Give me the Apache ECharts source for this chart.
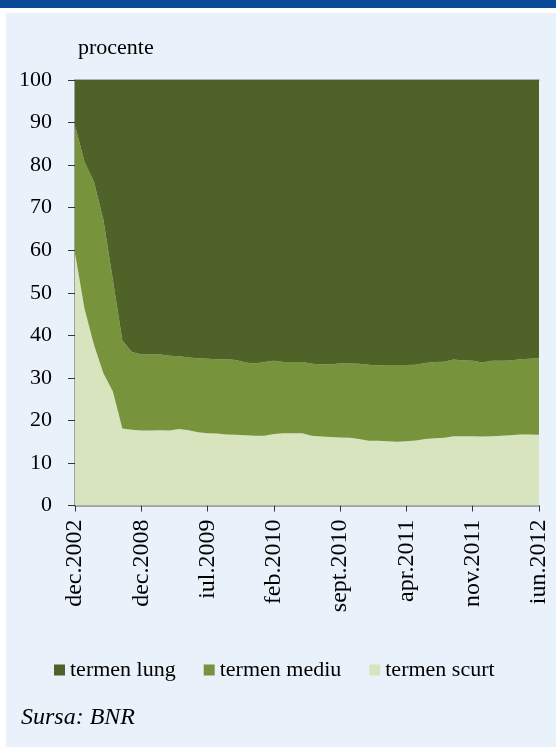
<!DOCTYPE html>
<html>
<head>
<meta charset="utf-8">
<script src="https://cdn.jsdelivr.net/npm/echarts@6/dist/echarts.min.js"></script>
<style>
  html, body { margin: 0; padding: 0; background: #fff; }
  #band { position: absolute; left: 0; top: 0; width: 556px; height: 8px; background: #0a4b97; }
  #chart { position: absolute; left: 6px; top: 13px; width: 550px; height: 734px; background: #e9f1fb; }
</style>
</head>
<body>
<div id="band"></div>
<div id="chart"></div>
<script>
// categorii (dec.2002 ... dec.2007 anual, apoi lunar din dec.2008)
const categories = [
  'dec.2002', 'dec.2003', 'dec.2004', 'dec.2005', 'dec.2006', 'dec.2007', 'iun.2008',
  'dec.2008', 'ian.2009', 'feb.2009', 'mar.2009', 'apr.2009', 'mai.2009', 'iun.2009',
  'iul.2009', 'aug.2009', 'sept.2009', 'oct.2009', 'nov.2009', 'dec.2009', 'ian.2010',
  'feb.2010', 'mar.2010', 'apr.2010', 'mai.2010', 'iun.2010', 'iul.2010', 'aug.2010',
  'sept.2010', 'oct.2010', 'nov.2010', 'dec.2010', 'ian.2011', 'feb.2011', 'mar.2011',
  'apr.2011', 'mai.2011', 'iun.2011', 'iul.2011', 'aug.2011', 'sept.2011', 'oct.2011',
  'nov.2011', 'dec.2011', 'ian.2012', 'feb.2012', 'mar.2012', 'apr.2012', 'mai.2012',
  'iun.2012'
]

// termen scurt (procente)
const scurt = [
  59.4, 46.3, 37.8, 31.1, 26.8, 18.1, 17.8,
  17.6, 17.6, 17.7, 17.6, 18.0, 17.7, 17.2,
  17.0, 16.9, 16.7, 16.6, 16.5, 16.4, 16.4,
  16.8, 17.0, 17.0, 17.0, 16.4, 16.2, 16.1,
  16.0, 15.9, 15.6, 15.2, 15.2, 15.1, 15.0,
  15.1, 15.3, 15.6, 15.8, 15.9, 16.3, 16.3,
  16.3, 16.2, 16.3, 16.4, 16.5, 16.7, 16.7,
  16.6
]
// termen mediu (procente)
const mediu = [
  29.9, 34.5, 38.3, 36.0, 26.2, 20.7, 18.3,
  17.9, 17.9, 17.8, 17.6, 17.1, 17.1, 17.4,
  17.5, 17.5, 17.7, 17.6, 17.1, 17.0, 17.3,
  17.2, 16.7, 16.7, 16.7, 16.9, 17.0, 17.1,
  17.4, 17.5, 17.7, 17.9, 17.7, 17.9, 18.0,
  17.9, 17.8, 17.9, 17.9, 17.9, 18.0, 17.8,
  17.7, 17.4, 17.7, 17.6, 17.6, 17.7, 17.8,
  18.0
]
// termen lung (procente)
const lung = [
  10.7, 19.2, 23.9, 32.9, 47.0, 61.2, 63.9,
  64.5, 64.5, 64.5, 64.8, 64.9, 65.2, 65.4,
  65.5, 65.6, 65.6, 65.8, 66.4, 66.6, 66.3,
  66.0, 66.3, 66.3, 66.3, 66.7, 66.8, 66.8,
  66.6, 66.6, 66.7, 66.9, 67.1, 67.0, 67.0,
  67.0, 66.9, 66.5, 66.3, 66.2, 65.7, 65.9,
  66.0, 66.4, 66.0, 66.0, 65.9, 65.6, 65.5,
  65.4
]

const COLORS = { lung: '#4f6228', mediu: '#77933c', scurt: '#d7e4bd' }
const FONT = '"Liberation Serif", "DejaVu Serif", serif'

const chart = echarts.init(document.getElementById('chart'))

const areaSeries = (name, data) => ({
  name,
  type: 'line',
  stack: 'total',
  data,
  symbol: 'none',
  lineStyle: { width: 0 },
  areaStyle: { color: COLORS[name.split(' ')[1]], opacity: 1 },
  itemStyle: { color: COLORS[name.split(' ')[1]] },
  emphasis: { disabled: true }
})

chart.setOption({
  animation: false,
  textStyle: { fontFamily: FONT },
  grid: { left: 69, top: 67, width: 464, height: 425.5 },
  graphic: [
    {
      type: 'text', left: 72, top: 24,
      style: { text: 'procente', font: '22px ' + FONT, fill: '#000' }
    },
    {
      type: 'text', left: 15, top: 693,
      style: { text: 'Sursa: BNR', font: 'italic 24px ' + FONT, fill: '#000' }
    }
  ],
  legend: {
    data: ['termen lung', 'termen mediu', 'termen scurt'],
    left: 43, top: 641,
    icon: 'rect', itemWidth: 11, itemHeight: 11, itemGap: 28,
    textStyle: { fontSize: 22, fontFamily: FONT, color: '#000' }
  },
  xAxis: [
    {
      type: 'category',
      data: categories,
      boundaryGap: false,
      axisLine: { lineStyle: { color: '#868686', width: 1.5 } },
      axisTick: { interval: 6, length: 6, lineStyle: { color: '#333' } },
      axisLabel: {
        interval: 6, rotate: 90, margin: 14,
        fontSize: 24, fontFamily: FONT, color: '#000'
      }
    },
    {
      type: 'category',
      data: categories,
      position: 'top',
      boundaryGap: false,
      axisLine: { lineStyle: { color: '#9a9a9a', width: 1.5 } },
      axisTick: { show: false },
      axisLabel: { show: false }
    }
  ],
  yAxis: {
    type: 'value',
    min: 0, max: 100, interval: 10,
    axisLine: { show: true, lineStyle: { color: '#868686', width: 1.5 } },
    axisTick: { show: true, inside: false, length: 7, lineStyle: { color: '#333' } },
    splitLine: { show: false },
    axisLabel: { margin: 23, fontSize: 22, fontFamily: FONT, color: '#000' }
  },
  series: [
    areaSeries('termen scurt', scurt),
    areaSeries('termen mediu', mediu),
    areaSeries('termen lung', lung)
  ]
})
</script>
</body>
</html>
